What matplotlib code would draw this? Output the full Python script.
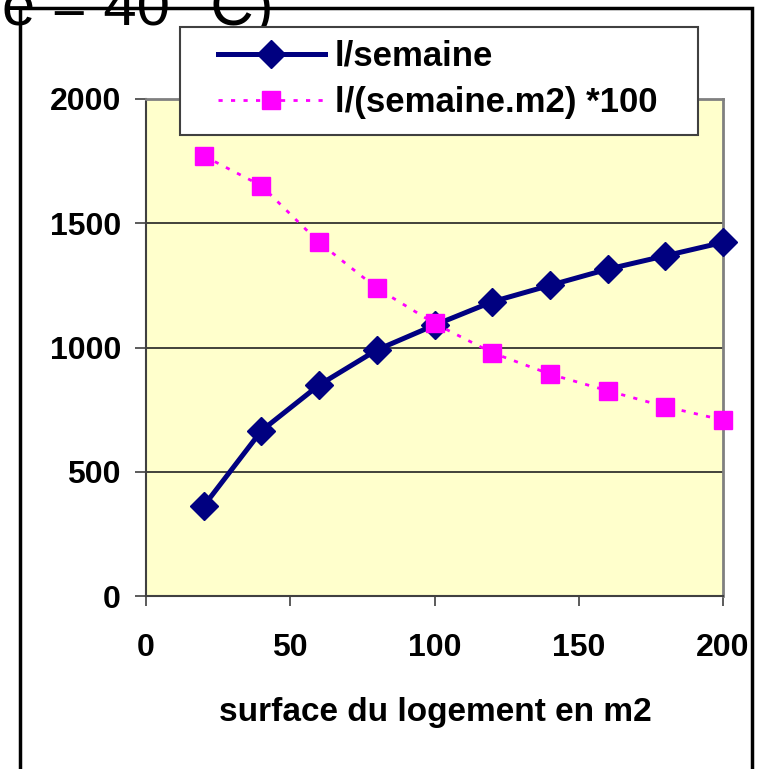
import matplotlib
matplotlib.use("Agg")
import matplotlib.pyplot as plt
from matplotlib.patches import Rectangle

plt.rcParams['font.family'] = ['Liberation Sans', 'DejaVu Sans']

# surface du logement (m2)
surface = [20, 40, 60, 80, 100, 120, 140, 160, 180, 200]
# consommation en l/semaine
litres_semaine = [362, 665, 849, 990, 1090, 1184, 1250, 1315, 1369, 1423]
# l/(semaine.m2) * 100
litres_m2 = [1771, 1651, 1423, 1239, 1097, 979, 893, 826, 762, 708]

x_ticks = [0, 50, 100, 150, 200]
y_ticks = [0, 500, 1000, 1500, 2000]

W, H = 758, 769
fig = plt.figure(figsize=(W / 100, H / 100), dpi=100)

# outer chart frame (bottom edge is cut off in the picture)
fig.patches.append(Rectangle((20 / W, -0.05), (752 - 20) / W, (H - 8) / H + 0.05,
                             transform=fig.transFigure, fill=False,
                             edgecolor='black', linewidth=2.5, zorder=0))

# title, mostly cut off at the top of the picture
fig.text(273 / W, 1 - 25 / H, "e = 40 °C)", ha='right', va='baseline',
         fontsize=43, color='black')

ax = fig.add_axes([146 / W, 1 - 596 / H, (723 - 146) / W, (596 - 99) / H])
ax.set_facecolor('#FFFFCC')

l1, = ax.plot(surface, litres_semaine, color='#000080', linewidth=3.6, marker='D',
              markersize=14, clip_on=False, zorder=3)
l2, = ax.plot(surface, litres_m2, color='#FF00FF', linewidth=2, linestyle=(0, (1.5, 3)),
              marker='s', markersize=13, clip_on=False, zorder=3)

ax.set_xlim(0, 200)
ax.set_ylim(0, 2000)
ax.set_xticks(x_ticks)
ax.set_yticks(y_ticks)
ax.yaxis.grid(True, color='#222222', linewidth=1.2)
ax.set_axisbelow(True)

for side in ['top', 'right']:
    ax.spines[side].set_color('#808080')
    ax.spines[side].set_linewidth(2)
for side in ['left', 'bottom']:
    ax.spines[side].set_color('#404040')
    ax.spines[side].set_linewidth(1.5)

ax.tick_params(axis='y', direction='out', length=8, width=1.2, color='#404040',
               pad=10, labelsize=23)
ax.tick_params(axis='x', direction='out', length=7, width=1.2, color='#404040',
               pad=20, labelsize=23)
for lab in ax.get_xticklabels() + ax.get_yticklabels():
    lab.set_fontweight('bold')

ax.set_xlabel('surface du logement en m2', fontsize=24, fontweight='bold')
ax.xaxis.set_label_coords(0.501, -0.203)
ax.xaxis.label.set_va('top')

# legend box drawn by hand so the entries can sit with Excel-like padding
fig.patches.append(Rectangle((180 / W, 1 - 135 / H), (698 - 180) / W, (135 - 27) / H,
                             transform=fig.transFigure, facecolor='white',
                             edgecolor='#404040', linewidth=1.5, zorder=4))
leg = fig.legend([l1, l2], ['l/semaine', 'l/(semaine.m2) *100'],
                 loc='upper left', bbox_to_anchor=(218 / W, 1 - 40 / H),
                 prop={'size': 25, 'weight': 'bold'}, frameon=False,
                 handlelength=3.08, handletextpad=0.29, labelspacing=0.38,
                 borderpad=0, borderaxespad=0)
leg.set_zorder(5)

fig.savefig('out.png', dpi=100)
